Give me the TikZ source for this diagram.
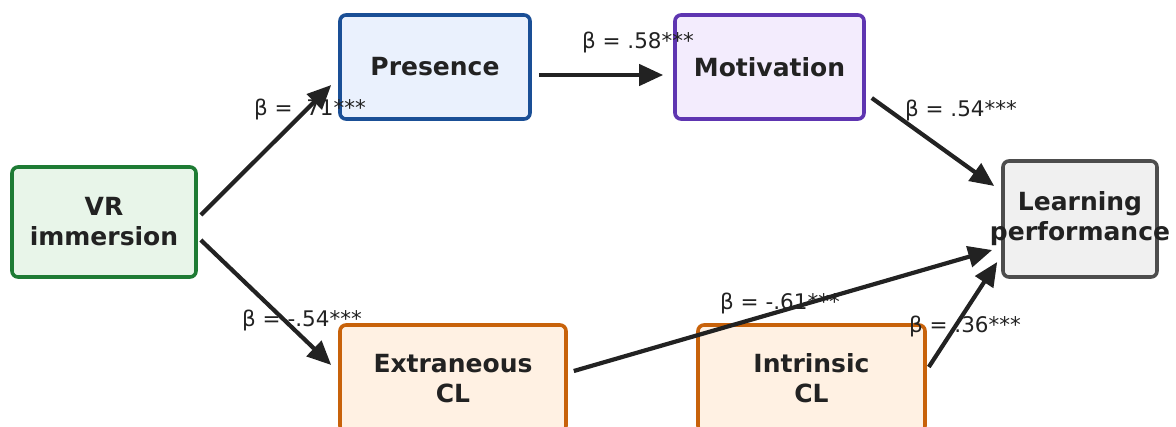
\documentclass[tikz,border=0pt]{standalone}
\usepackage{fontspec}
\setmainfont{DejaVu Sans}
\usetikzlibrary{arrows.meta}
\definecolor{semInk}{HTML}{222222}
\definecolor{semGreen}{HTML}{1E7B34}
\definecolor{semGreenPale}{HTML}{E8F5E9}
\definecolor{semBlue}{HTML}{1A4F96}
\definecolor{semBluePale}{HTML}{EAF1FD}
\definecolor{semPurple}{HTML}{5E35B1}
\definecolor{semPurplePale}{HTML}{F3ECFD}
\definecolor{semGray}{HTML}{4D4D4D}
\definecolor{semGrayPale}{HTML}{F0F0F0}
\definecolor{semOrange}{HTML}{C8620A}
\definecolor{semOrangePale}{HTML}{FFF1E3}
\tikzset{
  sem box/.style={rectangle, rounded corners=6pt, line width=3.6pt, align=center, inner sep=0pt, font=\fontsize{25}{30}\selectfont\bfseries, text=semInk},
  sem path/.style={draw=semInk, line width=4.2pt, -{Triangle[length=24pt,width=21pt]}},
  sem coef/.style={font=\fontsize{21.5}{25}\selectfont, text=semInk, inner sep=0pt},
}

\begin{document}
\begin{tikzpicture}[x=1pt,y=-1pt]
  \useasboundingbox (0,0) rectangle (1176,426);
  % Constructs
  \node[sem box, draw=semGreen, fill=semGreenPale, minimum width=184pt, minimum height=110pt] (vr) at (104,222) {VR\\immersion};
  \node[sem box, draw=semBlue, fill=semBluePale, minimum width=190pt, minimum height=104pt] (pres) at (435,67) {Presence};
  \node[sem box, draw=semPurple, fill=semPurplePale, minimum width=189pt, minimum height=104pt] (mot) at (769.5,67) {Motivation};
  \node[sem box, draw=semGray, fill=semGrayPale, minimum width=154pt, minimum height=116pt] (learn) at (1080,219) {Learning\\\makebox[0pt]{performance}};
  \node[sem box, draw=semOrange, fill=semOrangePale, minimum width=226pt, minimum height=107pt] (ext) at (453,378.5) {Extraneous\\CL};
  \node[sem box, draw=semOrange, fill=semOrangePale, minimum width=227pt, minimum height=107pt] (intr) at (811.5,378.5) {Intrinsic\\CL};
  % Path coefficients
  \node[sem coef] (c1) at (310,109) {β = .71***};
  \node[sem coef] (c2) at (638,42) {β = .58***};
  \node[sem coef] (c3) at (961,110) {β = .54***};
  \node[sem coef] (c4) at (302,320) {β = -.54***};
  \node[sem coef] (c5) at (780,303) {β = -.61***};
  \node[sem coef] (c6) at (965,326) {β = .36***};
  % Paths
  \draw[sem path] ([xshift=3pt,yshift=7pt]vr.east) -- ([xshift=-7pt,yshift=-18pt]pres.west);
  \draw[sem path] ([xshift=3pt,yshift=-18pt]vr.east) -- ([xshift=-7pt,yshift=13.5pt]ext.west);
  \draw[sem path] ([xshift=7pt,yshift=-8pt]pres.east) -- ([xshift=-10pt,yshift=-8pt]mot.west);
  \draw[sem path] ([xshift=6pt,yshift=-31pt]mot.east) -- ([xshift=-7pt,yshift=33pt]learn.west);
  \draw[sem path] ([xshift=6pt,yshift=7.5pt]ext.east) -- ([xshift=-9pt,yshift=-31pt]learn.west);
  \draw[sem path] ([xshift=2pt,yshift=11.5pt]intr.east) -- ([xshift=-4pt,yshift=-43pt]learn.west);
\end{tikzpicture}
\end{document}
